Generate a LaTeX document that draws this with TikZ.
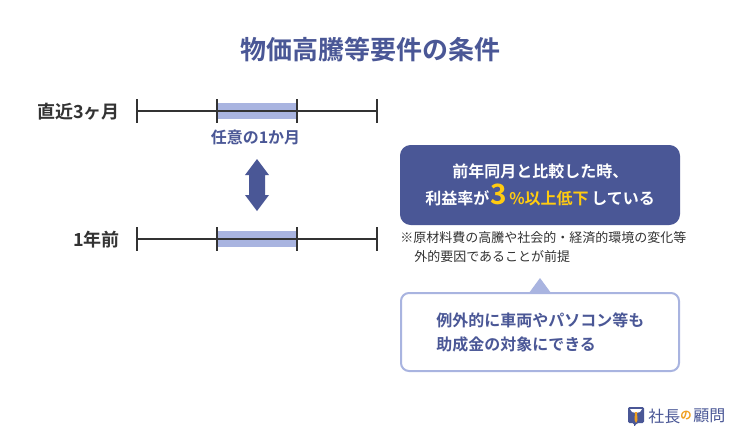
\documentclass[tikz,border=0pt]{standalone}
\usepackage{fontspec}
\setmainfont{Noto Sans CJK JP}[BoldFont={Noto Sans CJK JP Bold}]
\usetikzlibrary{positioning,calc}
\definecolor{navy}{HTML}{4A5796}
\definecolor{lightblue}{HTML}{A9B4E0}
\definecolor{ink}{HTML}{333333}
\definecolor{gold}{HTML}{FFCB10}
\definecolor{logotie}{HTML}{F0A020}
\tikzset{
    rowlabel/.style={anchor=east, inner sep=0pt, font=\bfseries\fontsize{13.5}{16}\selectfont, text=ink},
    navytext/.style={inner sep=0pt, font=\bfseries\fontsize{12}{14}\selectfont, text=navy},
    condtext/.style={inner sep=0pt, font=\bfseries\fontsize{12}{14}\selectfont, text=white, anchor=base west},
    axisline/.style={line width=1.5pt, draw=ink},
    notetext/.style={inner sep=0pt, anchor=west, font=\fontsize{9.75}{12}\selectfont, text=ink},
    logotext/.style={inner sep=0pt, font=\fontsize{12}{14}\selectfont, text=navy}
}
\begin{document}
\begin{tikzpicture}[x=0.75pt, y=-0.75pt]
        \useasboundingbox (0,0) rectangle (740,436);
        \fill[white] (0,0) rectangle (740,436);
        \node[inner sep=0pt, font=\bfseries\fontsize{19.5}{22}\selectfont, text=navy] (title) at (370.5,50){物価高騰等要件の条件};
        % the two time lines
        \foreach \rowy in {111, 239}{
            \fill[lightblue] (217,\rowy-8) rectangle (297,\rowy+8);
            \draw[axisline] (137,\rowy)--(377,\rowy);
            \foreach \tickx in {137,217,297,377}
                \draw[axisline] (\tickx,\rowy-12)--(\tickx,\rowy+12);
        }
        \node[rowlabel] (recent) at (120,112){直近3ヶ月};
        \node[rowlabel] (lastyear) at (120,240){1年前};
        \node[navytext] (anymonth) at (255.5,137){任意の1か月};
        \fill[navy] (257,159)--(269,175)--(265,175)--(265,195)--(269,195)--(257,211)--(245,195)--(249,195)--(249,175)--(245,175)--cycle;
        % condition box
        \node[fill=navy, rounded corners=8pt, minimum width=210pt, minimum height=60pt, inner sep=0pt] (condbox) at (540,185){};
        \node[condtext] (condone) at (452,177){前年同月と比較した時、};
        \node[condtext] (condtwo) at (425,204){利益率が};
        \node[condtext, font=\bfseries\fontsize{21}{24}\selectfont, text=gold] (condnum) at (490.5,204){3};
        \node[condtext, text=gold] (condpct) at (509,204){\%以上低下};
        \node[condtext] (condend) at (591,204){している};
        % note
        \node[notetext] (noteone) at (400,238){※原材料費の高騰や社会的・経済的環境の変化等};
        \node[notetext] (notetwo) at (414,257){外的要因であることが前提};
        % callout
        \fill[lightblue] (540,278)--(551,293)--(529,293)--cycle;
        \node[draw=lightblue, line width=1.5pt, fill=white, rounded corners=6pt, minimum width=208.5pt, minimum height=58.5pt, inner sep=0pt] (callout) at (540,332){};
        \node[navytext, anchor=west] (callone) at (436,320){例外的に車両やパソコン等も};
        \node[navytext, anchor=west] (calltwo) at (436,344){助成金の対象にできる};
        % logo
        \fill[navy, rounded corners=1pt] (628,407)--(644,407)--(644,423)--(637,423)--(634,427)--(634,423)--(628,423)--cycle;
        \fill[white] (630,409)--(642,409)--(640,412)--(636,413)--(632,412)--cycle;
        \fill[logotie] (635,412)--(637,412)--(637.5,420)--(636,423)--(634.5,420)--cycle;
        \node[logotext, anchor=west] (logoa) at (648,416){社長};
        \node[inner sep=0pt, font=\bfseries\fontsize{8.5}{10}\selectfont, text=logotie, anchor=west] (logob) at (680,416){の};
        \node[logotext, anchor=west] (logoc) at (693,416){顧問};
    \end{tikzpicture}
\end{document}
